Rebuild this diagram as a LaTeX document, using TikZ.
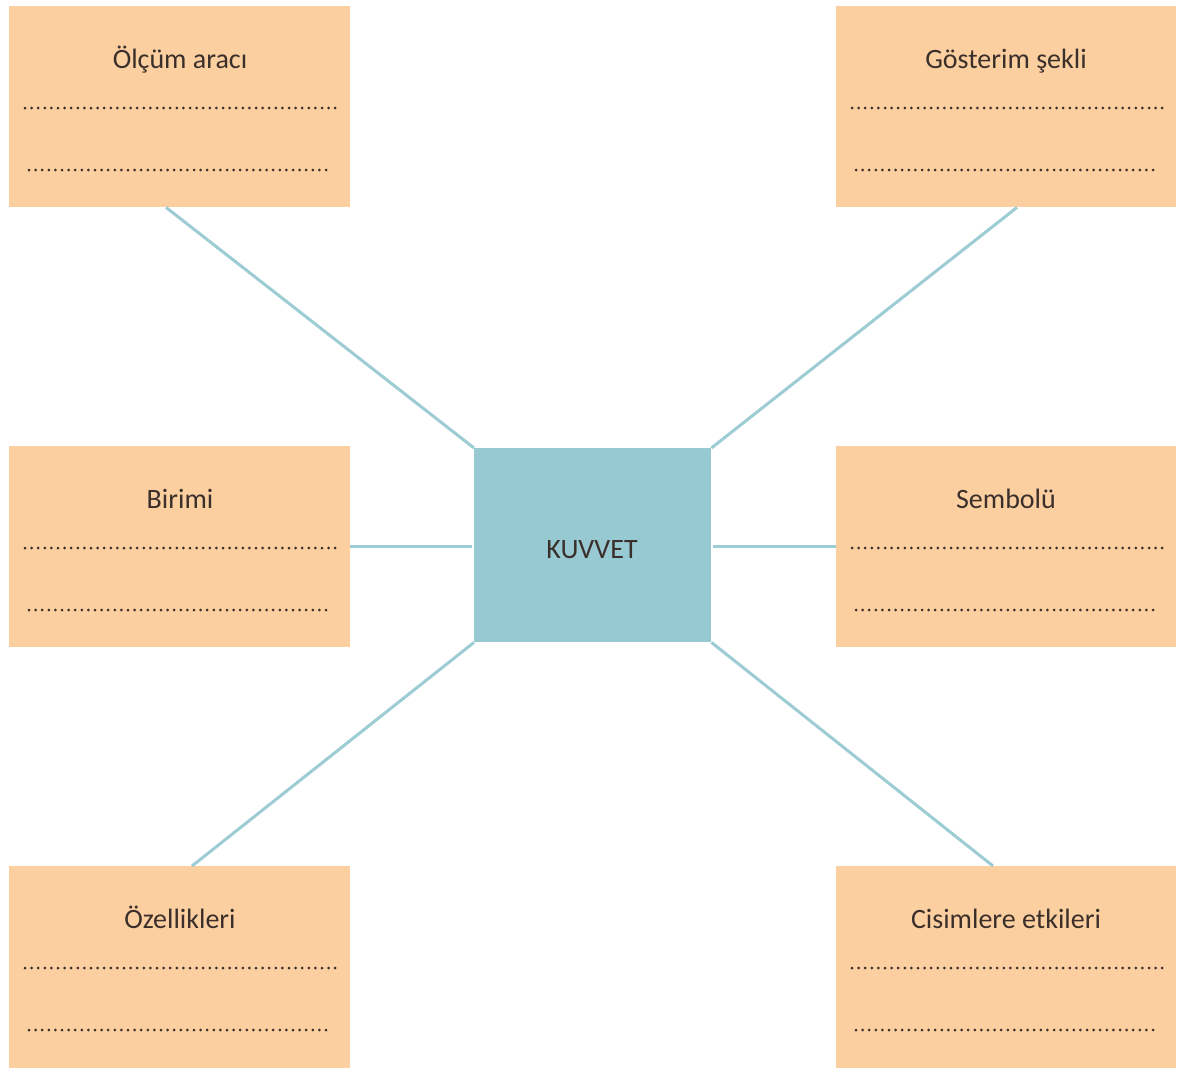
\documentclass[tikz,border=0pt]{standalone}
\usepackage{fontspec}
\setmainfont{Carlito}
\begin{document}
\begin{tikzpicture}[x=1pt,y=-1pt,
  peach/.style={fill=boxfill,draw=none,minimum width=341pt,minimum height=201pt,inner sep=0pt,anchor=north west},
  title/.style={text=txt,font=\fontsize{28}{32}\selectfont,anchor=base},
  dotrow/.style={draw=txt,line width=3pt,line cap=round,dash pattern=on 0pt off 6.6pt},
  conn/.style={draw=linec,line width=3pt}]
\definecolor{boxfill}{HTML}{FCCFA0}
\definecolor{ctr}{HTML}{97C9D3}
\definecolor{linec}{HTML}{9DCCD4}
\definecolor{txt}{HTML}{3A2F2A}
\useasboundingbox (0,0) rectangle (1181,1068);
\fill[white] (0,0) rectangle (1181,1068);
% boxes
\node[peach] (tl) at (9,6) {};
\node[peach,minimum width=340pt] (tr) at (836,6) {};
\node[peach] (ml) at (9,446) {};
\node[peach,minimum width=340pt] (mr) at (836,446) {};
\node[peach,minimum height=202pt] (bl) at (9,866) {};
\node[peach,minimum width=340pt,minimum height=202pt] (br) at (836,866) {};
\node[fill=ctr,minimum width=237pt,minimum height=194pt,inner sep=0pt,anchor=north west] (c) at (474,448) {};
\node[text=txt,font=\fontsize{28}{32}\selectfont,anchor=base] (ct) at (592,558) {KUVVET};
% titles
\node[title] (t1) at (180,68) {Ölçüm aracı};
\node[title] (t2) at (1006,68) {Gösterim şekli};
\node[title] (t3) at (180,508) {Birimi};
\node[title] (t4) at (1006,508) {Sembolü};
\node[title] (t5) at (180,928) {Özellikleri};
\node[title] (t6) at (1006,928) {Cisimlere etkileri};
% dotted lines
\foreach \bx/\by in {9/6, 836/6, 9/446, 836/446, 9/866, 836/866}{
  \draw[dotrow] (\bx+16,\by+102) -- (\bx+327,\by+102);
  \draw[dotrow] (\bx+20,\by+164) -- (\bx+323,\by+164);
}
% connectors
\draw[conn] ([xshift=157pt]tl.south west) -- (c.north west);
\draw[conn] ([xshift=181pt]tr.south west) -- (c.north east);
\draw[conn] (ml.east) -- ([xshift=-2pt]c.west |- ml.east);
\draw[conn] ([xshift=2pt]c.east |- mr.west) -- (mr.west);
\draw[conn] ([xshift=183pt]bl.north west) -- (c.south west);
\draw[conn] ([xshift=157pt]br.north west) -- (c.south east);
\end{tikzpicture}
\end{document}
